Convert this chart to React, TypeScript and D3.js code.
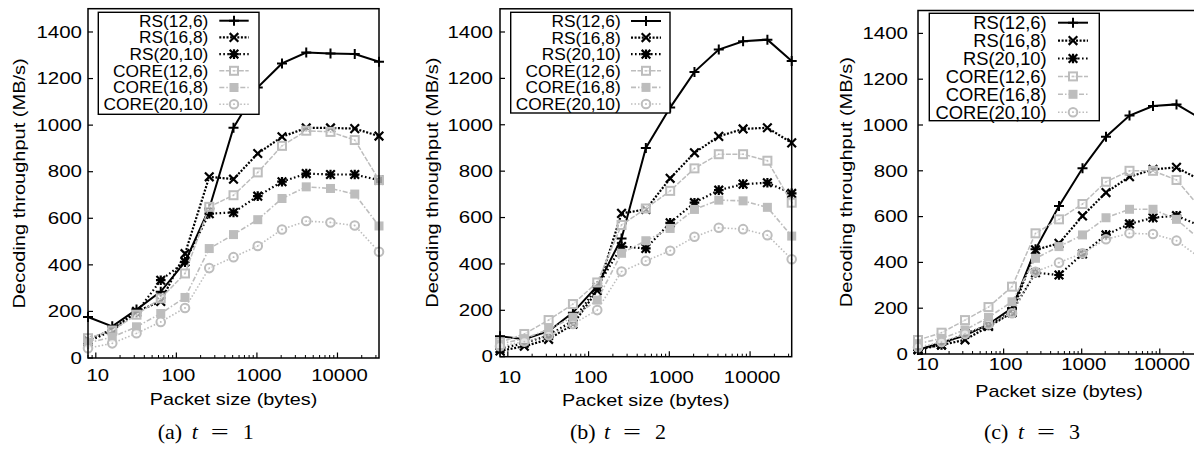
import * as d3 from "d3";

// packet sizes (bytes) on the log x axis
const sizes = [8, 16, 32, 64, 128, 256, 512, 1024, 2048, 4096, 8192, 16384, 32768];
const seriesNames = ["RS(12,6)", "RS(16,8)", "RS(20,10)", "CORE(12,6)", "CORE(16,8)", "CORE(20,10)"];
const yTicks = [0, 200, 400, 600, 800, 1000, 1200, 1400];
const xTicks = [10, 100, 1000, 10000];

// t = 1
const rs12_6_t1 = [176, 136, 208, 285, 412, 642, 989, 1162, 1265, 1312, 1308, 1305, 1272];
const rs16_8_t1 = [78, 122, 200, 243, 448, 778, 768, 878, 950, 988, 988, 985, 953];
const rs20_10_t1 = [70, 118, 195, 334, 413, 620, 625, 695, 757, 792, 788, 788, 764];
const core12_6_t1 = [85, 118, 186, 256, 363, 649, 699, 797, 911, 976, 971, 936, 764];
const core16_8_t1 = [65, 90, 134, 191, 260, 470, 530, 594, 685, 735, 728, 704, 567];
const core20_10_t1 = [42, 63, 106, 155, 215, 386, 433, 481, 552, 588, 582, 569, 456];

// t = 2
const rs12_6_t2 = [88, 75, 110, 190, 305, 510, 900, 1074, 1228, 1324, 1360, 1367, 1275];
const rs16_8_t2 = [25, 45, 75, 140, 285, 618, 635, 769, 879, 950, 982, 987, 922];
const rs20_10_t2 = [35, 58, 92, 155, 300, 475, 467, 577, 664, 718, 744, 750, 704];
const core12_6_t2 = [62, 98, 158, 227, 320, 568, 639, 715, 812, 873, 873, 845, 664];
const core16_8_t2 = [55, 78, 118, 170, 244, 446, 500, 553, 635, 675, 672, 644, 520];
const core20_10_t2 = [45, 65, 92, 141, 201, 367, 413, 457, 517, 556, 550, 524, 420];

// t = 3
const rs12_6_t3 = [18, 50, 80, 130, 200, 457, 646, 811, 949, 1041, 1083, 1090, 1030];
const rs16_8_t3 = [22, 39, 62, 120, 180, 455, 483, 603, 705, 774, 806, 815, 760];
const rs20_10_t3 = [18, 40, 90, 125, 185, 355, 345, 437, 520, 568, 595, 604, 560];
const core12_6_t3 = [61, 93, 148, 205, 294, 527, 588, 655, 752, 800, 800, 760, 640];
const core16_8_t3 = [45, 68, 105, 160, 228, 418, 469, 520, 595, 632, 632, 588, 500];
const core20_10_t3 = [30, 52, 88, 130, 178, 359, 399, 440, 501, 527, 524, 495, 420];

const GRAY = "#bdbdbd";
const SANS = "'Liberation Sans', Arial, Helvetica, sans-serif";
const SERIF = "'Liberation Serif', 'Times New Roman', serif";

const styles = [
  { color: "#000", width: 2, dash: "none", marker: "plus" },
  { color: "#000", width: 2.2, dash: "2,1.6", marker: "cross" },
  { color: "#000", width: 2.2, dash: "1.6,2.4", marker: "star" },
  { color: GRAY, width: 1.5, dash: "5,1.5", marker: "openSquare" },
  { color: GRAY, width: 1.6, dash: "5,2,1.5,2", marker: "fillSquare" },
  { color: GRAY, width: 1.6, dash: "1.5,2", marker: "openCircle" },
];

const panels = [
  {
    key: "a", t: "1",
    series: [rs12_6_t1, rs16_8_t1, rs20_10_t1, core12_6_t1, core16_8_t1, core20_10_t1],
    left: 88, right: 379, top: 8.7, bottom: 358,
    yLabGap: 6, yTitleX: 25, xTickY: 381, xTitleY: 405, capL: 157.7, capY: 439,
    lg: { x0: 98.3, y0: 12.3, x1: 259, y1: 114.3, row0: 20.7, rowH: 16.7, textR: 208.3, s0: 219.3, s1: 248.7, fs: 16.5 },
  },
  {
    key: "b", t: "2",
    series: [rs12_6_t2, rs16_8_t2, rs20_10_t2, core12_6_t2, core16_8_t2, core20_10_t2],
    left: 500, right: 791.7, top: 8.8, bottom: 356.7,
    yLabGap: 7, yTitleX: 438, xTickY: 383, xTitleY: 406, capL: 570, capY: 439,
    lg: { x0: 510.7, y0: 12.3, x1: 670, y1: 113, row0: 21, rowH: 16.6, textR: 620.7, s0: 631, s1: 661, fs: 16.5 },
  },
  {
    key: "c", t: "3",
    series: [rs12_6_t3, rs16_8_t3, rs20_10_t3, core12_6_t3, core16_8_t3, core20_10_t3],
    left: 918, right: 1200, top: 10.5, bottom: 354,
    yLabGap: 10, yTitleX: 852, xTickY: 370, xTitleY: 397, capL: 984, capY: 439,
    lg: { x0: 929.3, y0: 13.3, x1: 1099.3, y1: 120.7, row0: 22.7, rowH: 17.9, textR: 1046.7, s0: 1058, s1: 1088, fs: 17.5 },
  },
];

function Txt({ x, y, sx = 1, rot = 0, anchor = "start", fs = 16, family = SANS, italic = false, dy, children }: any) {
  const tr = `translate(${x},${y})${rot ? ` rotate(${rot})` : ""} scale(${sx},1)`;
  return (
    <text transform={tr} textAnchor={anchor} fontSize={fs} fontFamily={family}
      fontStyle={italic ? "italic" : "normal"} dy={dy} fill="#000">
      {children}
    </text>
  );
}

function Marker({ kind, x, y, color }: any) {
  const h = 4.3;
  if (kind === "plus")
    return <path d={`M${x - h - 0.7},${y}H${x + h + 0.7}M${x},${y - h - 0.7}V${y + h + 0.7}`} stroke={color} strokeWidth={2} />;
  if (kind === "cross")
    return <path d={`M${x - h},${y - h}L${x + h},${y + h}M${x - h},${y + h}L${x + h},${y - h}`} stroke={color} strokeWidth={2.2} />;
  if (kind === "star")
    return (
      <path d={`M${x - h},${y - h}L${x + h},${y + h}M${x - h},${y + h}L${x + h},${y - h}M${x - h - 0.5},${y}H${x + h + 0.5}M${x},${y - h - 0.5}V${y + h + 0.5}`}
        stroke={color} strokeWidth={2.2} />
    );
  if (kind === "openSquare")
    return (
      <g>
        <rect x={x - 4} y={y - 4} width={8} height={8} fill="#fff" fillOpacity={0.6} stroke={color} strokeWidth={2} />
        <circle cx={x} cy={y} r={0.9} fill={color} />
      </g>
    );
  if (kind === "fillSquare")
    return <rect x={x - 4.5} y={y - 4.5} width={9} height={9} fill={color} />;
  return (
    <g>
      <circle cx={x} cy={y} r={4.3} fill="#fff" fillOpacity={0.6} stroke={color} strokeWidth={2} />
      <circle cx={x} cy={y} r={0.9} fill={color} />
    </g>
  );
}

function Panel({ p }: any) {
  const x = d3.scaleLog().domain([8, 32768]).range([p.left, p.right]);
  const y = d3.scaleLinear().domain([0, 1500]).range([p.bottom, p.top]);
  const line = d3.line<number>().x((_, i) => x(sizes[i])).y((d) => y(d));
  const minor: number[] = [];
  for (let e = 0; e <= 4; e++)
    for (let m = 2; m <= 9; m++) {
      const v = m * Math.pow(10, e);
      if (v >= 8 && v <= 32768) minor.push(v);
    }
  const lg = p.lg;
  const cx = (p.left + p.right) / 2;
  const cy = (p.top + p.bottom) / 2;
  return (
    <g>
      {/* ticks */}
      {yTicks.map((v) => (
        <g key={"y" + v}>
          <line x1={p.left} x2={p.left + 5} y1={y(v)} y2={y(v)} stroke="#000" strokeWidth={1.2} />
          <Txt x={p.left - p.yLabGap} y={y(v)} dy="0.36em" anchor="end" sx={1.28} fs={16}>{v}</Txt>
        </g>
      ))}
      {minor.map((v) => (
        <line key={"m" + v} x1={x(v)} x2={x(v)} y1={p.bottom} y2={p.bottom - 3} stroke="#000" strokeWidth={1} />
      ))}
      {xTicks.map((v) => (
        <g key={"x" + v}>
          <line x1={x(v)} x2={x(v)} y1={p.bottom} y2={p.bottom - 5.5} stroke="#000" strokeWidth={1.2} />
          <Txt x={x(v) + 2} y={p.xTickY} anchor="middle" sx={1.27} fs={16}>{v}</Txt>
        </g>
      ))}
      <Txt x={cx} y={p.xTitleY} anchor="middle" sx={1.24} fs={16}>Packet size (bytes)</Txt>
      <Txt x={p.yTitleX} y={cy} rot={-90} anchor="middle" sx={1.25} fs={16}>Decoding throughput (MB/s)</Txt>

      {/* series */}
      {p.series.map((vals: number[], si: number) => {
        const st = styles[si];
        return (
          <g key={"s" + si}>
            <path d={line(vals) || ""} fill="none" stroke={st.color} strokeWidth={st.width}
              strokeDasharray={st.dash} />
            {vals.map((v, i) => (
              <Marker key={i} kind={st.marker} x={x(sizes[i])} y={y(v)} color={st.color} />
            ))}
          </g>
        );
      })}

      {/* legend */}
      <rect x={lg.x0} y={lg.y0} width={lg.x1 - lg.x0} height={lg.y1 - lg.y0} fill="#fff" stroke="#000" strokeWidth={1.4} />
      {seriesNames.map((name, i) => {
        const st = styles[i];
        const ry = lg.row0 + i * lg.rowH;
        return (
          <g key={"l" + i}>
            <Txt x={lg.textR} y={ry} dy="0.36em" anchor="end" fs={lg.fs} sx={1.05}>{name}</Txt>
            <line x1={lg.s0} x2={lg.s1} y1={ry} y2={ry} stroke={st.color} strokeWidth={st.width} strokeDasharray={st.dash} />
            <Marker kind={st.marker} x={(lg.s0 + lg.s1) / 2} y={ry} color={st.color} />
          </g>
        );
      })}

      <rect x={p.left} y={p.top} width={p.right - p.left} height={p.bottom - p.top} fill="none" stroke="#000" strokeWidth={1.5} />

      {/* caption */}
      <Txt x={p.capL} y={p.capY} fs={22} family={SERIF}>({p.key})</Txt>
      <Txt x={p.capL + 34} y={p.capY} fs={22} family={SERIF} italic>t</Txt>
      <Txt x={p.capL + 53} y={p.capY} fs={22} family={SERIF} sx={1.45}>=</Txt>
      <Txt x={p.capL + 85} y={p.capY} fs={22} family={SERIF}>{p.t}</Txt>
    </g>
  );
}

export default function App() {
  return (
    <svg width={1194} height={449} style={{ position: "absolute", left: 0, top: 0, background: "#fff" }}>
      <rect width={1194} height={449} fill="#fff" />
      {panels.map((p) => (
        <Panel key={p.key} p={p} />
      ))}
    </svg>
  );
}
